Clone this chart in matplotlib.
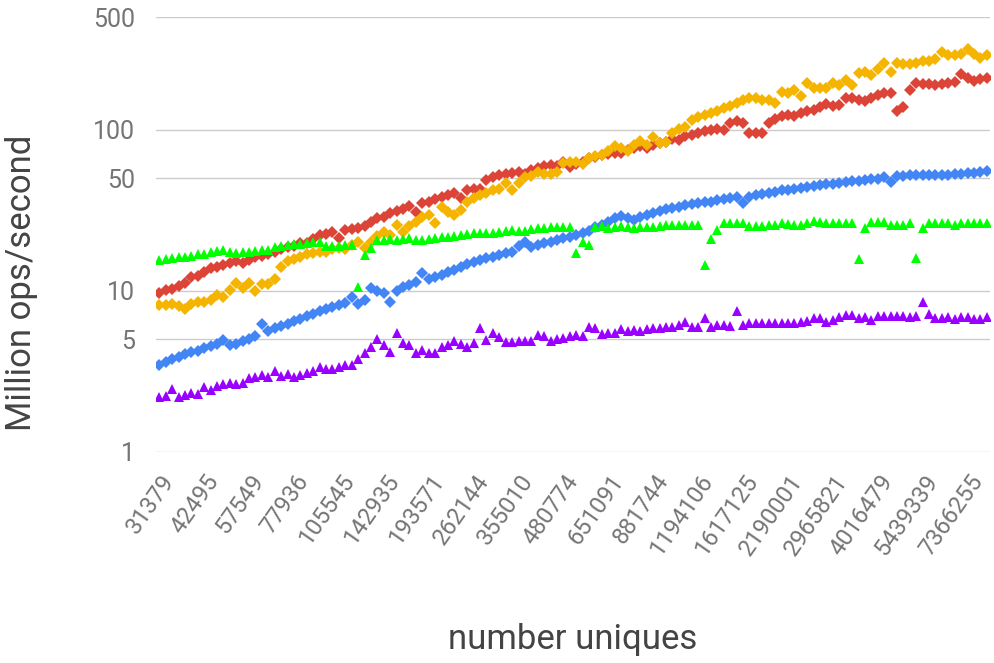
import matplotlib
matplotlib.use('Agg')
import matplotlib.pyplot as plt

plt.rcParams['font.family'] = ['Roboto', 'DejaVu Sans']

# x tick labels, one every 7th category (last label = last category)
uniques = ['31379', '42495', '57549', '77936', '105545', '142935', '193571',
           '262144', '355010', '480774', '651091', '881744', '1194106',
           '1617125', '2190001', '2965821', '4016479', '5439339', '7366255']
label_step = 7
first_label = 3

# million ops/second per category
blue = [3.46, 3.59, 3.75, 3.9, 4.03, 4.14, 4.24, 4.39, 4.54, 4.65,
        4.94, 4.62, 4.7, 4.85, 5.0, 5.2, 6.2, 5.65, 5.85, 6.0,
        6.2, 6.45, 6.7, 6.95, 7.2, 7.45, 7.7, 7.95, 8.15, 8.4,
        9.2, 8.3, 8.8, 10.4, 9.9, 9.65, 8.57, 9.9, 10.6, 10.9,
        11.4, 12.8, 11.9, 12.2, 12.6, 13.1, 13.4, 14.1, 14.6, 15.0,
        15.5, 15.9, 16.3, 16.7, 17.1, 17.5, 19.0, 20.2, 18.8, 19.2,
        19.7, 20.2, 20.6, 21.2, 21.7, 22.2, 23.0, 23.6, 24.8, 25.5,
        26.9, 28.2, 29.1, 28.2, 27.5, 28.6, 29.5, 30.6, 31.5, 32.1,
        32.6, 33.3, 34.2, 34.7, 35.1, 35.8, 35.8, 36.6, 37.1, 37.5,
        38.2, 35.1, 38.5, 39.4, 40.0, 40.4, 41.3, 42.0, 42.5, 43.0,
        43.6, 44.2, 44.8, 45.3, 45.8, 46.3, 46.8, 47.3, 47.8, 48.3,
        48.8, 49.3, 49.8, 51.0, 47.6, 51.5, 52.0, 52.2, 52.2, 52.3,
        52.3, 52.5, 52.5, 52.5, 53.0, 53.5, 54.0, 54.2, 54.8, 55.2]

red = [9.7, 10.1, 10.3, 10.7, 11.2, 12.2, 12.3, 13.1, 13.8, 14.1,
       14.5, 14.8, 15.4, 14.8, 15.6, 16.2, 16.4, 16.8, 17.5, 18.3,
       18.8, 19.0, 19.7, 19.9, 21.0, 22.1, 22.6, 23.3, 21.2, 23.8,
       24.1, 24.6, 25.3, 26.9, 28.2, 28.9, 30.3, 31.2, 32.4, 33.5,
       30.8, 34.9, 35.8, 37.1, 38.2, 39.2, 40.5, 37.8, 42.1, 43.0,
       42.6, 48.8, 50.6, 52.5, 53.5, 54.0, 55.0, 53.5, 56.3, 57.6,
       59.4, 60.2, 59.4, 62.7, 58.5, 61.6, 63.5, 66.6, 67.6, 69.8,
       71.0, 72.0, 71.6, 74.8, 76.6, 79.3, 76.6, 80.6, 82.8, 84.3,
       87.6, 86.4, 91.6, 92.8, 95.6, 98.0, 100.0, 101.6, 100.0, 110.9,
       114.0, 110.0, 95.6, 96.0, 96.0, 110.0, 116.6, 121.0, 123.5, 121.5,
       127.0, 130.0, 133.5, 138.0, 144.5, 140.0, 142.0, 157.0, 157.0, 153.0,
       151.0, 157.0, 163.5, 169.0, 169.0, 130.0, 138.0, 175.6, 195.0, 192.6,
       192.6, 190.0, 192.6, 196.0, 199.0, 222.0, 209.0, 201.0, 206.0, 209.0]

yellow = [8.15, 8.15, 8.27, 8.0, 7.67, 8.27, 8.57, 8.57, 8.8, 9.4,
          9.2, 10.1, 11.1, 10.4, 11.1, 10.0, 11.0, 11.0, 11.8, 14.0,
          15.2, 15.7, 16.3, 16.9, 17.1, 17.3, 17.5, 18.1, 18.4, 18.1,
          19.2, 20.2, 18.4, 20.2, 21.9, 23.3, 22.1, 25.5, 23.3, 25.1,
          26.9, 28.9, 29.6, 26.2, 33.0, 31.0, 29.6, 31.8, 35.8, 37.5,
          39.4, 40.7, 42.0, 42.6, 47.0, 42.1, 46.5, 50.8, 51.3, 54.4,
          53.5, 53.5, 54.4, 62.1, 62.7, 63.5, 61.2, 66.6, 68.8, 69.8,
          73.4, 79.0, 76.6, 73.4, 80.6, 85.6, 80.6, 90.0, 82.8, 84.3,
          96.0, 101.0, 104.0, 115.0, 120.0, 123.5, 127.0, 130.0, 136.0, 140.0,
          146.0, 153.0, 157.0, 157.0, 153.0, 153.0, 146.0, 172.0, 169.0, 176.7,
          163.0, 196.0, 181.0, 182.0, 181.0, 196.0, 190.0, 205.0, 190.0, 226.0,
          228.0, 219.0, 237.0, 259.0, 230.0, 259.0, 256.0, 256.0, 259.0, 267.0,
          267.0, 277.0, 303.0, 290.0, 292.0, 296.0, 318.0, 296.0, 281.0, 290.0]

green = [15.5, 15.7, 15.9, 16.1, 16.3, 16.5, 16.8, 17.0, 17.3, 17.6,
         17.9, 17.5, 17.2, 17.3, 17.4, 17.6, 17.8, 17.9, 18.8, 19.0,
         19.2, 19.4, 19.6, 19.8, 20.0, 20.2, 18.9, 19.0, 19.1, 19.2,
         19.3, 10.6, 16.7, 18.4, 20.6, 20.6, 20.9, 20.6, 20.9, 21.3,
         20.6, 20.8, 21.0, 21.2, 21.5, 21.7, 22.0, 22.2, 22.6, 22.7,
         22.8, 22.7, 23.0, 23.3, 23.5, 23.8, 23.6, 23.4, 24.3, 24.5,
         24.6, 24.8, 24.8, 24.8, 24.8, 17.1, 20.2, 19.2, 24.8, 25.2,
         24.6, 24.8, 25.1, 25.0, 24.5, 25.0, 25.0, 24.9, 25.2, 25.5,
         25.5, 25.5, 25.5, 25.5, 25.5, 14.5, 20.9, 24.0, 26.2, 26.2,
         26.2, 26.2, 25.1, 25.1, 25.1, 25.5, 25.5, 26.2, 26.0, 25.5,
         25.5, 26.5, 27.2, 26.9, 26.5, 26.5, 26.5, 26.5, 26.5, 15.7,
         24.5, 26.9, 26.9, 26.9, 25.5, 25.5, 25.5, 26.2, 15.9, 24.5,
         26.5, 26.5, 26.5, 26.5, 25.5, 26.5, 26.5, 26.5, 26.5, 26.2]

purple = [2.2, 2.22, 2.44, 2.2, 2.25, 2.3, 2.28, 2.53, 2.43, 2.55,
          2.63, 2.66, 2.63, 2.68, 2.86, 2.9, 3.0, 2.9, 3.18, 2.94,
          3.04, 2.9, 3.0, 3.1, 3.18, 3.37, 3.25, 3.28, 3.37, 3.46,
          3.46, 3.75, 4.08, 4.5, 5.0, 4.6, 4.18, 5.5, 4.72, 4.6,
          4.08, 4.3, 4.08, 4.1, 4.45, 4.58, 4.9, 4.68, 4.5, 4.71,
          5.85, 4.94, 5.44, 5.15, 4.8, 4.8, 4.85, 4.9, 4.9, 5.3,
          5.2, 4.9, 5.0, 5.1, 5.2, 5.3, 5.2, 5.97, 5.85, 5.4,
          5.45, 5.5, 5.77, 5.65, 5.7, 5.65, 5.77, 5.85, 5.85, 5.94,
          5.94, 6.13, 6.43, 5.94, 5.94, 6.75, 5.94, 6.13, 6.13, 6.05,
          7.52, 6.13, 6.28, 6.33, 6.28, 6.28, 6.33, 6.33, 6.28, 6.33,
          6.43, 6.52, 6.75, 6.75, 6.43, 6.58, 6.9, 7.07, 7.07, 6.75,
          6.84, 6.58, 6.96, 6.96, 6.96, 6.96, 6.96, 6.84, 6.96, 8.57,
          7.18, 6.75, 6.75, 6.84, 6.65, 6.84, 6.84, 6.65, 6.65, 6.84]

yticks = [1, 5, 10, 50, 100, 500]

fig = plt.figure(figsize=(9.94, 6.63), dpi=100)
ax = fig.add_axes([0.157, 0.3187, 0.839, 0.6552])

x = range(len(blue))
ax.plot(x, blue, 'D', color='#4285F4', ms=6, mew=0, zorder=3)
ax.plot(x, red, 'D', color='#DB4437', ms=6, mew=0, zorder=3)
ax.plot(x, yellow, 'D', color='#F4B400', ms=6, mew=0, zorder=3)
ax.plot(x, green, '^', color='#00FF00', ms=7.5, mew=0, zorder=3)
ax.plot(x, purple, '^', color='#9900FF', ms=7.5, mew=0, zorder=3)

ax.set_yscale('log')
ax.set_ylim(1, 500)
ax.set_yticks(yticks, [str(t) for t in yticks])
ax.minorticks_off()
ax.grid(axis='y', color='#cccccc', lw=1)
ax.set_axisbelow(True)
ax.set_xlim(-0.5, len(blue) - 0.5)
# slanted labels sit with their end a bit left of the category they name
label_pos = [i - 1.4 for i in range(first_label, len(blue), label_step)]
ax.set_xticks(label_pos, uniques, rotation=55,
              ha='right', va='center', rotation_mode='anchor')
for s in ax.spines.values():
    s.set_visible(False)
ax.tick_params(axis='y', length=0, pad=15, labelsize=18, labelcolor='#757575')
ax.tick_params(axis='x', length=0, pad=18, labelsize=17, labelcolor='#757575')

fig.text(0.022, 0.573, 'Million ops/second', rotation=90, ha='center',
         va='center', fontsize=25, color='#444444')
fig.text(0.576, 0.035, 'number uniques', ha='center', va='center',
         fontsize=25, color='#444444')

fig.savefig('out.png', dpi=100)
